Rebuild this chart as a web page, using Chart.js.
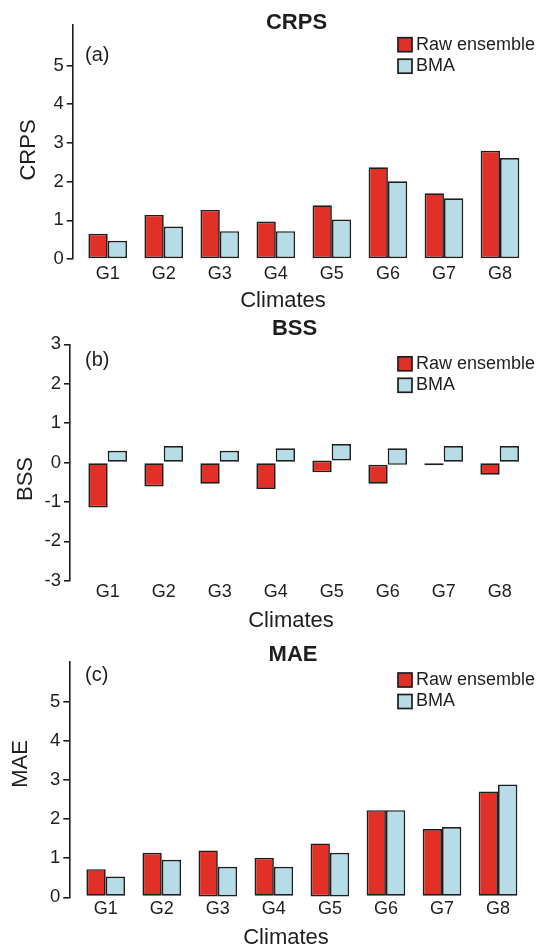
<!DOCTYPE html>
<html>
<head>
<meta charset="utf-8">
<script src="https://cdn.jsdelivr.net/npm/chart.js@4.4.1/dist/chart.umd.min.js"></script>
<style>
body { margin: 0; background: #fff; }
canvas { display: block; }
</style>
</head>
<body>
<canvas id="crps" width="542" height="310"></canvas>
<canvas id="bss" width="542" height="320"></canvas>
<canvas id="mae" width="542" height="320"></canvas>
<script>
// Climate groups and series
const climates = ['G1', 'G2', 'G3', 'G4', 'G5', 'G6', 'G7', 'G8'];
const seriesNames = ['Raw ensemble', 'BMA'];

// (a) CRPS
const crpsRaw = [0.65, 1.14, 1.27, 0.97, 1.39, 2.37, 1.70, 2.80];
const crpsBma = [0.47, 0.84, 0.72, 0.72, 1.02, 2.01, 1.57, 2.61];
const crpsTicks = [0, 1, 2, 3, 4, 5];

// (b) BSS - bars drawn from start to end
const bssRawStart = [0, 0, 0, 0, 0.05, -0.06, 0, 0];
const bssRawEnd = [-1.14, -0.61, -0.54, -0.67, -0.25, -0.54, -0.07, -0.31];
const bssBmaStart = [0, 0, 0, 0, 0.05, -0.06, 0, 0];
const bssBmaEnd = [0.30, 0.42, 0.30, 0.36, 0.47, 0.36, 0.42, 0.42];
const bssTicks = [-3, -2, -1, 0, 1, 2, 3];

// (c) MAE
const maeBase = [0.04, 0.04, 0, 0.04, 0, 0.04, 0.04, 0.04];
const maeRaw = [0.72, 1.14, 1.20, 1.01, 1.38, 2.23, 1.75, 2.71];
const maeBma = [0.53, 0.96, 0.78, 0.78, 1.14, 2.23, 1.80, 2.89];
const maeTicks = [0, 1, 2, 3, 4, 5];

const RED = '#e03028';
const BLUE = '#b5dce7';
const INK = '#1e1e1e';
const FONT = '"Liberation Sans", Arial, Helvetica, sans-serif';

// Texte du panneau: titre, lettre, titres d'axes, légende
const panelText = {
    id: 'panelText',
    afterDraw(chart, args, o) {
        const ctx = chart.ctx;
        ctx.save();
        ctx.fillStyle = INK;
        ctx.textBaseline = 'middle';
        ctx.textAlign = 'center';
        ctx.font = 'bold 22px ' + FONT;
        ctx.fillText(o.title, o.titleX, o.titleY);
        ctx.font = '22px ' + FONT;
        ctx.fillText('Climates', o.xLabelX, o.xLabelY);

        ctx.textAlign = 'left';
        ctx.font = '20px ' + FONT;
        ctx.fillText(o.letter, 85, o.letterY);

        // légende
        ctx.font = '18px ' + FONT;
        chart.data.datasets.forEach((ds, i) => {
            const cy = o.legendY + i * 21.5;
            ctx.fillStyle = ds.backgroundColor;
            ctx.fillRect(398, cy - 7, 14, 14);
            ctx.strokeStyle = INK;
            ctx.lineWidth = 1.7;
            ctx.strokeRect(398, cy - 7, 14, 14);
            ctx.fillStyle = INK;
            ctx.fillText(ds.label, 416, cy);
        });

        ctx.translate(o.yLabelX, o.yLabelY);
        ctx.rotate(-Math.PI / 2);
        ctx.textAlign = 'center';
        ctx.font = '22px ' + FONT;
        ctx.fillText(o.title, 0, 0);
        ctx.restore();
    }
};

function pairs(starts, ends) {
    return climates.map((c, i) => ({ x: i + 1, y: [starts[i], ends[i]] }));
}

function makeChart(id, o) {
    return new Chart(document.getElementById(id), {
        type: 'bar',
        data: {
            datasets: [
                {
                    label: seriesNames[0],
                    data: o.raw,
                    backgroundColor: RED,
                    borderColor: INK,
                    borderWidth: 1.7,
                    borderSkipped: false
                },
                {
                    label: seriesNames[1],
                    data: o.bma,
                    backgroundColor: BLUE,
                    borderColor: INK,
                    borderWidth: 1.7,
                    borderSkipped: false
                }
            ]
        },
        options: {
            responsive: false,
            animation: false,
            layout: { padding: { top: o.top, right: 8, bottom: o.bottom, left: 0 } },
            datasets: { bar: { categoryPercentage: 0.69, barPercentage: 1 } },
            plugins: {
                legend: { display: false },
                tooltip: { enabled: false },
                panelText: o.text
            },
            scales: {
                x: {
                    type: 'linear',
                    offset: false,
                    bounds: 'data',
                    min: o.xMin,
                    max: o.xMax,
                    afterBuildTicks: s => { s.ticks = climates.map((c, i) => ({ value: i + 1 })); },
                    afterFit: s => { s.height = 30; },
                    ticks: {
                        callback: (v, i) => climates[i],
                        font: { family: FONT, size: 18 },
                        color: INK,
                        padding: o.xPad,
                        maxRotation: 0
                    },
                    grid: { display: false, drawTicks: false, offset: false },
                    border: { display: false }
                },
                y: {
                    min: o.yMin,
                    max: o.yMax,
                    afterBuildTicks: s => { s.ticks = o.ticks.map(v => ({ value: v })); },
                    afterFit: s => { s.width = o.axisX; },
                    ticks: {
                        font: { family: FONT, size: 18.5 },
                        color: INK,
                        padding: 3
                    },
                    grid: { drawOnChartArea: false, tickLength: 6, color: INK, lineWidth: 1.6 },
                    border: { color: INK, width: 1.6 }
                }
            }
        },
        plugins: [panelText]
    });
}

makeChart('crps', {
    raw: pairs(climates.map(() => 0), crpsRaw),
    bma: pairs(climates.map(() => 0), crpsBma),
    ticks: crpsTicks, yMin: 0, yMax: 6.05,
    xMin: 0.375, xMax: 8.607, axisX: 72.7,
    top: 25, bottom: 21, xPad: 4,
    text: { title: 'CRPS', titleX: 296.5, titleY: 23, letter: '(a)', letterY: 55,
            xLabelX: 283, xLabelY: 301, yLabelX: 28.5, yLabelY: 150, legendY: 44.7 }
});

makeChart('bss', {
    raw: pairs(bssRawStart, bssRawEnd),
    bma: pairs(bssBmaStart, bssBmaEnd),
    ticks: bssTicks, yMin: -3, yMax: 3,
    xMin: 0.327, xMax: 8.613, axisX: 70,
    top: 34.3, bottom: 19.3, xPad: 1,
    text: { title: 'BSS', titleX: 294.5, titleY: 19, letter: '(b)', letterY: 50,
            xLabelX: 291, xLabelY: 311, yLabelX: 26, yLabelY: 169, legendY: 53.8 }
});

makeChart('mae', {
    raw: pairs(maeBase, maeRaw),
    bma: pairs(maeBase, maeBma),
    ticks: maeTicks, yMin: 0, yMax: 6.03,
    xMin: 0.35, xMax: 8.642, axisX: 69.3,
    top: 31.7, bottom: 22.7, xPad: 1,
    text: { title: 'MAE', titleX: 293, titleY: 25, letter: '(c)', letterY: 45,
            xLabelX: 286, xLabelY: 308, yLabelX: 21, yLabelY: 134, legendY: 50 }
});
</script>
</body>
</html>
